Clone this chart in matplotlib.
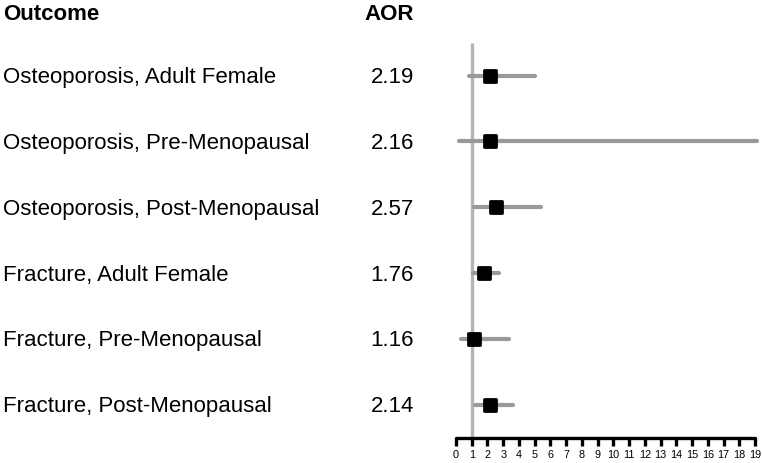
import matplotlib.pyplot as plt
from matplotlib.markers import MarkerStyle
from matplotlib.transforms import blended_transform_factory

plt.rcParams['font.family'] = ['Liberation Sans', 'DejaVu Sans']

# forest plot data
outcomes = [
    'Osteoporosis, Adult Female',
    'Osteoporosis, Pre-Menopausal',
    'Osteoporosis, Post-Menopausal',
    'Fracture, Adult Female',
    'Fracture, Pre-Menopausal',
    'Fracture, Post-Menopausal',
]
aor = [2.19, 2.16, 2.57, 1.76, 1.16, 2.14]
ci_low = [0.85, 0.2, 1.14, 1.06, 0.32, 1.19]
ci_high = [5.02, 19.1, 5.4, 2.71, 3.35, 3.64]
xticks = list(range(0, 20))

W, H = 762, 463
fig = plt.figure(figsize=(W / 100, H / 100), dpi=100)

# axes spans full height; x mapped so 0..19 sits at pixel 456..755
ax = fig.add_axes([456 / W, 0, (755 - 456) / W, 1])
row0, step = 75.7, 65.8
ax.set_ylim((H - row0) / step, -row0 / step)
ax.set_xlim(0, 19)

rows = list(range(len(outcomes)))
axis_y = (438 - row0) / step

# reference line at 1
ax.plot([1, 1], [-0.5, axis_y], color='#b5b5b5', lw=2.4, zorder=1,
        solid_capstyle='butt')

for i in rows:
    ax.plot([ci_low[i], ci_high[i]], [i, i], color='#9a9a9a', lw=3,
            solid_capstyle='round', zorder=2, clip_on=False)
ax.plot(aor, rows, linestyle='none',
        marker=MarkerStyle('s', joinstyle='round'), markersize=9,
        markerfacecolor='black', markeredgecolor='black',
        markeredgewidth=2, zorder=3, clip_on=False)

# bottom axis
for s in ['top', 'left', 'right']:
    ax.spines[s].set_visible(False)
ax.spines['bottom'].set_position(('data', axis_y))
ax.spines['bottom'].set_linewidth(2.4)
ax.spines['bottom'].set_capstyle('round')
ax.set_yticks([])
ax.set_xticks(xticks)
ax.set_xticklabels([str(t) for t in xticks], fontsize=7.8)
ax.tick_params(axis='x', direction='out', length=5.5, width=2.4, pad=3.5)
ax.patch.set_visible(False)

# left text columns (baseline placed so caps centre on the row)
tr = blended_transform_factory(fig.transFigure, ax.transData)
base = 7.5 / step
ax.text(3 / W, (19.5 - row0) / step, 'Outcome', transform=tr, fontsize=16,
        fontweight='bold', ha='left', va='baseline')
ax.text(414 / W, (19.5 - row0) / step, 'AOR', transform=tr, fontsize=16,
        fontweight='bold', ha='right', va='baseline')
for i in rows:
    ax.text(3 / W, i + base, outcomes[i], transform=tr, fontsize=16,
            ha='left', va='baseline')
    ax.text(414 / W, i + base, f'{aor[i]:.2f}', transform=tr, fontsize=16,
            ha='right', va='baseline')

plt.savefig('out.png', dpi=100)
plt.close()
